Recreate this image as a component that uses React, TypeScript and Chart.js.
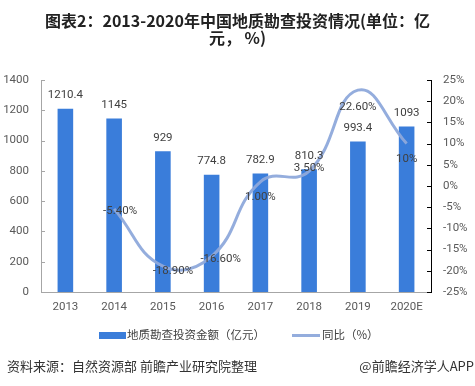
import { useEffect, useRef } from 'react';
import { Chart, registerables } from 'chart.js';
Chart.register(...registerables);

const categories = ['2013', '2014', '2015', '2016', '2017', '2018', '2019', '2020E'];
const investment = [1210.4, 1145, 929, 774.8, 782.9, 810.3, 993.4, 1093];
const investmentLabels = ['1210.4', '1145', '929', '774.8', '782.9', '810.3', '993.4', '1093'];
const yoy = [null, -5.4, -18.9, -16.6, 1.0, 3.5, 22.6, 10];
const yoyLabels = ['', '-5.40%', '-18.90%', '-16.60%', '1.00%', '3.50%', '22.60%', '10%'];
const leftTicks = [0, 200, 400, 600, 800, 1000, 1200, 1400];
const rightTicks = [-25, -20, -15, -10, -5, 0, 5, 10, 15, 20, 25];
const titleLines = ['图表2：2013-2020年中国地质勘查投资情况(单位：亿', '元， %)'];
const legendBar = '地质勘查投资金额（亿元）';
const legendLine = '同比（%）';
const sourceText = '资料来源：自然资源部 前瞻产业研究院整理';
const brandText = '@前瞻经济学人APP';

// label offsets (style)
const yoyLabelOffsets = [[0, 0], [6, 2], [10, 5], [9, 3], [0, 15], [0, -3], [0, 17], [0, 16]];

const BAR_COLOR = '#3A7DDA';
const LINE_COLOR = 'rgba(142,169,219,0.95)';
const NUM_FONT = 'Roboto, "Noto Sans CJK SC", sans-serif';
const CJK_FONT = '"Noto Sans CJK SC", sans-serif';

const extras = {
  id: 'extras',
  afterDraw(chart: any) {
    const ctx = chart.ctx;
    const ca = chart.chartArea;
    const y = chart.scales.y;
    const y1 = chart.scales.y1;
    ctx.save();
    // inward ticks
    ctx.lineWidth = 1;
    ctx.strokeStyle = '#A6A6A6';
    leftTicks.forEach((v) => {
      const py = Math.round(y.getPixelForValue(v)) + 0.5;
      ctx.beginPath();
      ctx.moveTo(ca.left, py);
      ctx.lineTo(ca.left + 4, py);
      ctx.stroke();
    });
    ctx.strokeStyle = '#000';
    rightTicks.forEach((v) => {
      const py = Math.round(y1.getPixelForValue(v)) + 0.5;
      ctx.beginPath();
      ctx.moveTo(ca.right - 4, py);
      ctx.lineTo(ca.right, py);
      ctx.stroke();
    });

    // bar labels
    const barMeta = chart.getDatasetMeta(1);
    ctx.fillStyle = '#404040';
    ctx.font = '11.5px ' + NUM_FONT;
    ctx.textAlign = 'center';
    ctx.textBaseline = 'middle';
    barMeta.data.forEach((el: any, i: number) => {
      ctx.fillText(investmentLabels[i], el.x, el.y - 13.5);
    });
    // line labels
    const lineMeta = chart.getDatasetMeta(0);
    lineMeta.data.forEach((el: any, i: number) => {
      if (yoy[i] === null) return;
      const [dx, dy] = yoyLabelOffsets[i];
      ctx.fillText(yoyLabels[i], el.x + dx, el.y + dy);
    });

    // title
    ctx.fillStyle = '#222';
    ctx.font = 'bold 16px ' + CJK_FONT;
    ctx.fillText(titleLines[0], 237.5, 21);
    ctx.fillText(titleLines[1], 237.5, 38);

    // legend
    ctx.fillStyle = BAR_COLOR;
    ctx.fillRect(99, 332, 27, 7);
    ctx.strokeStyle = LINE_COLOR;
    ctx.lineWidth = 3;
    ctx.beginPath();
    ctx.moveTo(292, 335.5);
    ctx.lineTo(320, 335.5);
    ctx.stroke();
    ctx.fillStyle = '#404040';
    ctx.font = '11.5px ' + CJK_FONT;
    ctx.textAlign = 'left';
    ctx.fillText(legendBar, 127, 335);
    ctx.fillText(legendLine, 322, 335);

    // source
    ctx.fillStyle = '#333';
    ctx.font = '13px ' + CJK_FONT;
    ctx.fillText(sourceText, 7, 366);
    ctx.textAlign = 'right';
    ctx.fillText(brandText, 474, 366);
    ctx.restore();
  },
};

export default function App() {
  const ref = useRef<HTMLCanvasElement | null>(null);
  useEffect(() => {
    if (!ref.current) return;
    const chart = new Chart(ref.current, {
      type: 'bar',
      data: {
        labels: categories,
        datasets: [
          {
            type: 'line',
            label: legendLine,
            data: yoy as any,
            yAxisID: 'y1',
            borderColor: LINE_COLOR,
            borderWidth: 3,
            pointRadius: 0,
            tension: 0.45,
            fill: false,
            order: 0,
          } as any,
          {
            type: 'bar',
            label: legendBar,
            data: investment,
            yAxisID: 'y',
            backgroundColor: BAR_COLOR,
            categoryPercentage: 1,
            barPercentage: 0.32,
            order: 1,
          },
        ],
      },
      options: {
        responsive: false,
        animation: false,
        layout: { padding: { left: 0, right: 0, top: 80, bottom: 64 } },
        plugins: { legend: { display: false }, title: { display: false }, tooltip: { enabled: false } },
        scales: {
          x: {
            grid: { display: false, drawTicks: false },
            border: { display: true, color: '#A6A6A6' },
            ticks: { color: '#595959', font: { family: NUM_FONT, size: 11.5 }, padding: 8 },
            afterFit: (s: any) => { s.height = 30; },
          },
          y: {
            position: 'left',
            min: 0,
            max: 1400,
            grid: { display: false, drawTicks: false },
            border: { display: true, color: '#A6A6A6' },
            ticks: {
              stepSize: 200,
              color: '#595959',
              font: { family: NUM_FONT, size: 11.5 },
              padding: 12,
              callback: (v: any) => String(v),
            },
            afterFit: (s: any) => { s.width = 41; },
          },
          y1: {
            position: 'right',
            min: -25,
            max: 25,
            grid: { display: false, drawTicks: false },
            border: { display: true, color: '#000' },
            ticks: {
              stepSize: 5,
              color: '#595959',
              font: { family: NUM_FONT, size: 11.5 },
              padding: 12,
              callback: (v: any) => v + '%',
            },
            afterFit: (s: any) => { s.width = 44; },
          },
        },
      },
      plugins: [extras],
    });
    return () => chart.destroy();
  }, []);
  return (
    <div style={{ position: 'absolute', left: 0, top: 0, width: 475, height: 386, background: '#fff' }}>
      <canvas ref={ref} width={475} height={386} />
    </div>
  );
}
